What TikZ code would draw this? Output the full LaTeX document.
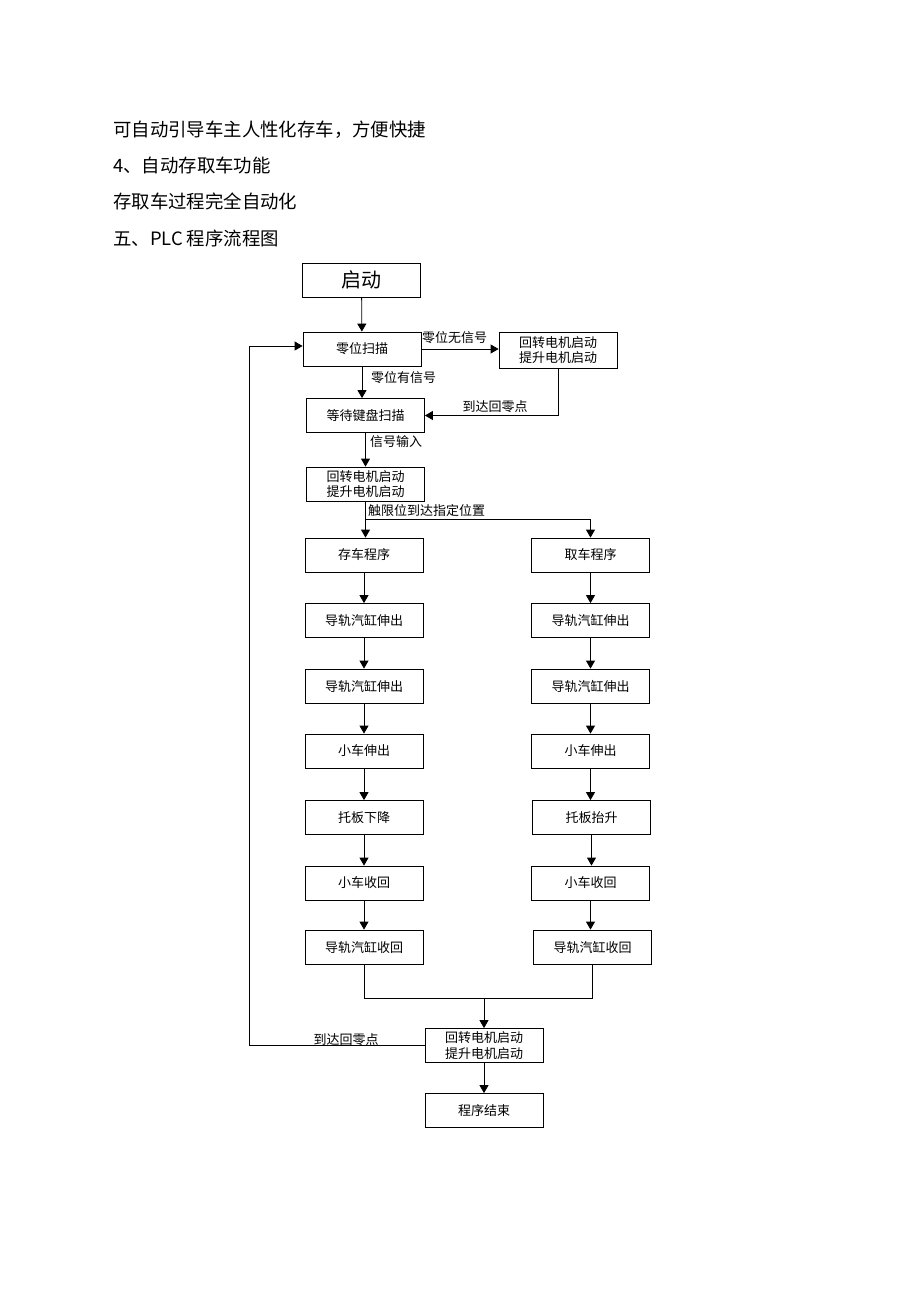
\documentclass[tikz,border=0pt]{standalone}
\usepackage{fontspec}
\newfontfamily\cjk{Noto Sans CJK SC}
\usetikzlibrary{arrows.meta}
\tikzset{
  box/.style={draw, line width=0.8pt, minimum width=118pt, minimum height=34pt, inner sep=0pt, align=center, font=\cjk\fontsize{13}{15.5}\selectfont},
  arr/.style={-{Triangle[width=9pt,length=8pt]}, line width=0.8pt},
  ln/.style={line width=0.8pt},
  lbl/.style={font=\cjk\fontsize{13}{15}\selectfont, inner sep=0pt},
  para/.style={font=\cjk\fontsize{18.4}{20}\selectfont, inner sep=0pt, anchor=west}
}
\begin{document}
\begin{tikzpicture}[x=1pt,y=-1pt]
\useasboundingbox[fill=white] (0,0) rectangle (920,1302);
% paragraph text
\node[para] (p1) at (113,130) {可自动引导车主人性化存车，方便快捷};
\node[para] (p2) at (113,165) {4、自动存取车功能};
\node[para] (p3) at (113,201) {存取车过程完全自动化};
\node[para] (p4) at (113,238) {五、PLC 程序流程图};
% boxes
\node[box, font=\cjk\fontsize{20}{22}\selectfont] (start) at (361.5,280) {启动};
\node[box] (zero) at (362,349) {零位扫描};
\node[box, minimum height=36pt] (rot1) at (558,350) {回转电机启动\\提升电机启动};
\node[box] (wait) at (365.5,415.5) {等待键盘扫描};
\node[box] (rot2) at (365.5,484) {回转电机启动\\提升电机启动};
\node[box] (cun) at (364,555) {存车程序};
\node[box] (qu) at (590.5,555) {取车程序};
\node[box] (a1) at (364,620.5) {导轨汽缸伸出};
\node[box] (a2) at (364,686) {导轨汽缸伸出};
\node[box] (a3) at (364,751) {小车伸出};
\node[box] (a4) at (364,817.5) {托板下降};
\node[box] (a5) at (364,883) {小车收回};
\node[box] (a6) at (364,947) {导轨汽缸收回};
\node[box] (b1) at (590.5,620.5) {导轨汽缸伸出};
\node[box] (b2) at (590.5,686) {导轨汽缸伸出};
\node[box] (b3) at (590.5,751) {小车伸出};
\node[box] (b4) at (591.5,817.5) {托板抬升};
\node[box] (b5) at (590.5,883) {小车收回};
\node[box] (b6) at (592.5,947) {导轨汽缸收回};
\node[box] (rot3) at (484,1045.5) {回转电机启动\\提升电机启动};
\node[box] (fin) at (484,1110.5) {程序结束};
% connectors
\draw[arr] (start) -- (zero);
\draw[arr] (zero.east) -- (rot1.west |- zero.east);
\node[lbl, anchor=west] (l1) at (422,338) {零位无信号};
\draw[arr] (zero.south) -- (zero.south |- wait.north);
\node[lbl, anchor=west] (l2) at (371,378) {零位有信号};
\draw[arr] (rot1.south) |- (wait.east);
\node[lbl] (l3) at (495,407) {到达回零点};
\draw[arr] (wait.south) -- (rot2.north);
\node[lbl, anchor=west] (l4) at (370,442) {信号输入};
\coordinate (br) at (364.5,519);
\draw[arr] (rot2.south) -- (rot2.south |- cun.north);
\draw[arr] (br) -| (qu.north);
\node[lbl, anchor=west] (l5) at (368,511) {触限位到达指定位置};
\draw[arr] (cun) -- (a1);
\draw[arr] (a1) -- (a2);
\draw[arr] (a2) -- (a3);
\draw[arr] (a3) -- (a4);
\draw[arr] (a4) -- (a5);
\draw[arr] (a5) -- (a6);
\draw[arr] (qu) -- (b1);
\draw[arr] (b1) -- (b2);
\draw[arr] (b2) -- (b3);
\draw[arr] (b3.south) -- (b3.south |- b4.north);
\draw[arr] (b4.south) -- (b4.south |- b5.north);
\draw[arr] (b5.south) -- (b5.south |- b6.north);
\coordinate (mg) at (484,998);
\draw[ln] (a6.south) |- (mg) -| (b6.south);
\draw[arr] (mg) -- (rot3.north);
\draw[arr] (rot3) -- (fin);
\coordinate (lp1) at (249,1045.5);
\coordinate (lp2) at (249,346);
\draw[arr] (rot3.west) -- (lp1) -- (lp2) -- (zero.west |- lp2);
\node[lbl] (l6) at (346,1040) {到达回零点};
\end{tikzpicture}
\end{document}
